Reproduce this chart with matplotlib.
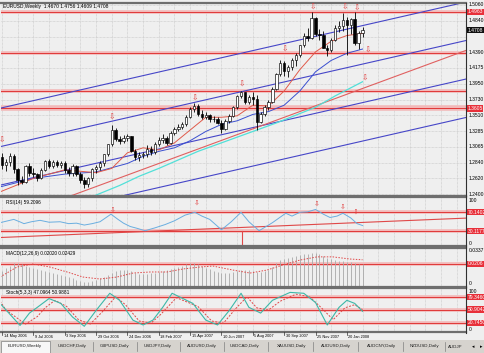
import numpy as np
import matplotlib
matplotlib.use('Agg')
import matplotlib.pyplot as plt
from matplotlib.patches import Rectangle
from matplotlib.transforms import blended_transform_factory as btf

# ---------------- data ----------------
title = 'EURUSD,Weekly  1.4670 1.4756 1.4609 1.4708'
dates = ['14 May 2006', '9 Jul 2006', '3 Sep 2006', '29 Oct 2006', '24 Dec 2006', '18 Feb 2007',
         '15 Apr 2007', '10 Jun 2007', '5 Aug 2007', '30 Sep 2007', '25 Nov 2007', '20 Jan 2008']
date_pos = [0, 8, 16, 24, 32, 40, 48, 56, 64, 72, 80, 88]

opens = [1.2920, 1.2810, 1.2850, 1.2940, 1.2750, 1.2600, 1.2570, 1.2790, 1.2700, 1.2680,
         1.2620, 1.2740, 1.2860, 1.2790, 1.2850, 1.2810, 1.2830, 1.2740, 1.2690, 1.2790,
         1.2680, 1.2600, 1.2540, 1.2620, 1.2750, 1.2780, 1.2830, 1.2960, 1.3100, 1.3300,
         1.3170, 1.3150, 1.3190, 1.3210, 1.3000, 1.2920, 1.2950, 1.2960, 1.3040, 1.2990,
         1.3100, 1.3160, 1.3190, 1.3120, 1.3260, 1.3320, 1.3350, 1.3390, 1.3490, 1.3590,
         1.3640, 1.3520, 1.3480, 1.3510, 1.3460, 1.3450, 1.3400, 1.3310, 1.3430, 1.3500,
         1.3620, 1.3780, 1.3830, 1.3700, 1.3770, 1.3740, 1.3420, 1.3530, 1.3620, 1.3700,
         1.3880, 1.4090, 1.4250, 1.4130, 1.4190, 1.4290, 1.4360, 1.4490, 1.4620, 1.4600,
         1.4870, 1.4650, 1.4640, 1.4460, 1.4420, 1.4570, 1.4740, 1.4770, 1.4850, 1.4780,
         1.4860, 1.4520, 1.4670]
highs = [1.2975, 1.2890, 1.2980, 1.2960, 1.2770, 1.2660, 1.2810, 1.2830, 1.2770, 1.2700,
         1.2760, 1.2880, 1.2890, 1.2880, 1.2880, 1.2860, 1.2860, 1.2780, 1.2820, 1.2810,
         1.2710, 1.2640, 1.2640, 1.2770, 1.2810, 1.2870, 1.2970, 1.3110, 1.3367, 1.3330,
         1.3220, 1.3230, 1.3240, 1.3220, 1.3030, 1.2990, 1.2990, 1.3090, 1.3070, 1.3130,
         1.3200, 1.3250, 1.3220, 1.3280, 1.3340, 1.3380, 1.3420, 1.3510, 1.3620, 1.3682,
         1.3660, 1.3580, 1.3560, 1.3530, 1.3500, 1.3480, 1.3440, 1.3450, 1.3520, 1.3640,
         1.3790, 1.3852, 1.3840, 1.3800, 1.3830, 1.3790, 1.3560, 1.3650, 1.3720, 1.3900,
         1.4100, 1.4280, 1.4270, 1.4220, 1.4320, 1.4380, 1.4500, 1.4660, 1.4740, 1.4966,
         1.4890, 1.4720, 1.4700, 1.4500, 1.4600, 1.4780, 1.4830, 1.4950, 1.4890, 1.4880,
         1.4960, 1.4700, 1.4756]
lows = [1.2750, 1.2720, 1.2800, 1.2700, 1.2530, 1.2540, 1.2550, 1.2660, 1.2640, 1.2580,
        1.2610, 1.2720, 1.2760, 1.2770, 1.2780, 1.2760, 1.2700, 1.2650, 1.2650, 1.2660,
        1.2560, 1.2484, 1.2500, 1.2590, 1.2700, 1.2740, 1.2800, 1.2940, 1.3080, 1.3140,
        1.3100, 1.3120, 1.3140, 1.2990, 1.2880, 1.2870, 1.2900, 1.2920, 1.2950, 1.2960,
        1.3080, 1.3120, 1.3090, 1.3110, 1.3230, 1.3290, 1.3320, 1.3360, 1.3470, 1.3560,
        1.3500, 1.3450, 1.3450, 1.3420, 1.3410, 1.3380, 1.3264, 1.3300, 1.3400, 1.3480,
        1.3600, 1.3750, 1.3660, 1.3660, 1.3650, 1.3300, 1.3400, 1.3500, 1.3580, 1.3680,
        1.3860, 1.4060, 1.4060, 1.4040, 1.4150, 1.4200, 1.4330, 1.4470, 1.4560, 1.4580,
        1.4620, 1.4570, 1.4450, 1.4340, 1.4400, 1.4550, 1.4680, 1.4700, 1.4360, 1.4650,
        1.4500, 1.4440, 1.4609]
closes = [1.2810, 1.2850, 1.2940, 1.2750, 1.2600, 1.2570, 1.2790, 1.2700, 1.2680, 1.2620,
          1.2740, 1.2860, 1.2790, 1.2850, 1.2810, 1.2830, 1.2740, 1.2690, 1.2790, 1.2680,
          1.2600, 1.2540, 1.2620, 1.2750, 1.2780, 1.2830, 1.2960, 1.3100, 1.3300, 1.3170,
          1.3150, 1.3190, 1.3210, 1.3000, 1.2920, 1.2950, 1.2960, 1.3040, 1.2990, 1.3100,
          1.3160, 1.3190, 1.3120, 1.3260, 1.3320, 1.3350, 1.3390, 1.3490, 1.3590, 1.3640,
          1.3520, 1.3480, 1.3510, 1.3460, 1.3450, 1.3400, 1.3310, 1.3430, 1.3500, 1.3620,
          1.3780, 1.3830, 1.3700, 1.3770, 1.3740, 1.3420, 1.3530, 1.3620, 1.3700, 1.3880,
          1.4090, 1.4250, 1.4130, 1.4190, 1.4290, 1.4360, 1.4490, 1.4620, 1.4600, 1.4870,
          1.4650, 1.4640, 1.4460, 1.4420, 1.4570, 1.4740, 1.4770, 1.4850, 1.4780, 1.4860,
          1.4520, 1.4670, 1.4708]

# moving averages (read at sparse bars)
ma_red_x = [-0.5, 8, 16, 24, 28, 32, 36, 40, 44, 48, 52, 56, 60, 64, 68, 72, 76, 80, 84, 88, 92]
ma_red_y = [1.243, 1.262, 1.274, 1.270, 1.276, 1.298, 1.305, 1.302, 1.312, 1.330, 1.348, 1.348,
            1.350, 1.365, 1.364, 1.385, 1.415, 1.440, 1.455, 1.463, 1.466]
ma_blue_x = [-0.5, 8, 16, 24, 32, 36, 40, 44, 48, 52, 56, 60, 64, 68, 72, 76, 80, 84, 88, 92]
ma_blue_y = [1.250, 1.262, 1.268, 1.271, 1.283, 1.293, 1.300, 1.305, 1.315, 1.328, 1.338, 1.343,
             1.352, 1.356, 1.365, 1.385, 1.412, 1.428, 1.438, 1.444]
ma_cyan_x = [22, 30, 35, 40, 45, 50, 60, 70, 80, 85, 92]
ma_cyan_y = [1.234, 1.252, 1.265, 1.276, 1.288, 1.300, 1.320, 1.340, 1.362, 1.378, 1.398]

# channel / trend lines (value at left edge, value at right edge)
chan_left = [1.3607, 1.3066, 1.2524, 1.1982]
chan_right = [1.5102, 1.4560, 1.4018, 1.3477]
red_trend = [1.2007, 1.4421]
levels_main = [1.4963, 1.4380, 1.3852, 1.3605]

# fractal arrows (bar, price)
arrows_x = [0, 28, 49.2, 61.2, 72.2, 79.3, 87.5, 90.6, 93.4, 92.6]
arrows_y = [1.316, 1.3484, 1.3751, 1.3948, 1.4441, 1.5032, 1.5032, 1.5018, 1.4427, 1.4033]

price_ticks = [1.5060, 1.4840, 1.4615, 1.4390, 1.4175, 1.3950, 1.3730, 1.3510, 1.3285, 1.3065,
               1.2840, 1.2620, 1.2400]

# RSI
rsi_x = [-0.5, 1.5, 3, 4.5, 5.6, 7.5, 9.7, 12, 14.8, 17, 19, 21, 23, 25, 27.8, 29.6, 31, 32.7,
         34.5, 36.5, 39, 41.6, 44, 46.7, 49.2, 51, 53, 56, 58.5, 61, 63, 65.6, 67, 69, 72.4,
         74, 76, 78, 80, 82, 83.7, 85.5, 87, 89, 90.6, 92]
rsi_y = [48, 52, 55, 50, 46, 50, 53, 49, 50, 46, 47, 43, 46, 50, 66, 55, 47, 40,
         36, 31, 37, 44, 52, 64, 70, 62, 55, 33, 50, 70, 50, 31, 38, 48, 68,
         62, 70, 71, 76, 66, 59, 62, 68, 58, 46, 42]
rsi_trend = [16.6, 57.7]
rsi_levels = [70.1402, 30.1177]
rsi_arrows_x = [28.3, 49.7, 80.4, 87, 90.3]
rsi_arrows_y = [76.5, 89.5, 87.4, 81, 72]

# MACD
macd_hist = [0.014, 0.017, 0.019, 0.021, 0.021, 0.020, 0.019, 0.018,
             0.017, 0.016, 0.015, 0.014, 0.013, 0.012, 0.011, 0.010,
             0.009, 0.008, 0.007, 0.006, 0.005, 0.004, 0.004, 0.005,
             0.006, 0.007, 0.008, 0.010, 0.012, 0.014, 0.015, 0.015,
             0.015, 0.014, 0.012, 0.011, 0.011, 0.011, 0.012, 0.012,
             0.013, 0.014, 0.015, 0.016, 0.017, 0.018, 0.019, 0.020,
             0.021, 0.021, 0.020, 0.019, 0.017, 0.016, 0.014, 0.013,
             0.012, 0.012, 0.012, 0.013, 0.014, 0.015, 0.015, 0.015,
             0.014, 0.013, 0.013, 0.014, 0.015, 0.018, 0.021, 0.024,
             0.025, 0.026, 0.027, 0.028, 0.029, 0.030, 0.030, 0.031,
             0.031, 0.030, 0.028, 0.026, 0.025, 0.024, 0.023, 0.023,
             0.022, 0.022, 0.021, 0.020, 0.0202]
macd_sig_x = [-0.5, 3.8, 7.9, 12.2, 16.6, 20.7, 25, 29.3, 33.4, 37.8, 42.1, 46.2, 50.5, 53.8,
              58.9, 63.3, 67.6, 71.7, 76, 80.4, 84.4, 88.8, 92]
macd_sig_y = [0.0083, 0.0176, 0.0204, 0.0176, 0.0130, 0.0083, 0.0065, 0.0083, 0.0120, 0.0130,
              0.0130, 0.0158, 0.0176, 0.0185, 0.0148, 0.0120, 0.0148, 0.0195, 0.0240, 0.0270,
              0.0270, 0.0250, 0.0243]
macd_level = 0.0206

# Stochastic
st_main_x = [-0.5, 4.6, 7, 9, 12, 15, 18, 21, 24, 27.5, 30, 33.4, 36, 38.5, 41, 43.4, 48.7, 52,
             55, 58, 61, 63, 66, 69, 73.5, 77, 80, 83, 86, 88, 90, 92]
st_main_y = [65, 15, 43, 56, 76, 65, 34, 13, 49, 88, 72, 27, 16, 27, 56, 88, 65, 27,
             16, 49, 88, 56, 43, 72, 90, 88, 67, 16, 56, 72, 65, 47]
st_sig_x = [-0.5, 1, 6, 9, 11, 13.5, 16.5, 19.5, 22.5, 25.5, 29, 31.5, 35, 38, 40.5, 44.5, 50,
            53.5, 56.5, 59.5, 62.5, 65, 68, 71, 75, 78.5, 81.5, 84.5, 87.5, 90, 92]
st_sig_y = [70, 50, 18, 35, 55, 72, 58, 28, 18, 45, 80, 62, 25, 20, 40, 78, 58,
            25, 20, 52, 80, 55, 50, 70, 86, 80, 55, 28, 55, 62, 51]
st_levels = [79.3460, 50.9042, 20.7450]

tabs = ['EURUSD,Weekly', 'USDCHF,Daily', 'GBPUSD,Daily', 'USDJPY,Daily', 'AUDUSD,Daily',
        'USDCAD,Daily', 'XAUUSD,Daily', 'AUDUSD,Daily', 'AUDCNY,Daily', 'NZDUSD,Daily', 'AUDJP']
tab_centers = [25, 72, 115, 158, 202, 245, 292, 336, 382, 424, 455]

# ---------------- drawing ----------------
W, H = 485, 353
BG = '#efefef'
GRID = '#c4c4c4'
FONT = 'Liberation Sans'
plt.rcParams['font.family'] = [FONT, 'DejaVu Sans']

fig = plt.figure(figsize=(W / 100, H / 100), dpi=100)
fig.patch.set_facecolor(BG)

XL = (-0.26, 118.4)


def pane(top, bottom):
    ax = fig.add_axes([1 / W, 1 - bottom / H, 465 / W, (bottom - top) / H])
    ax.set_facecolor(BG)
    ax.set_xlim(*XL)
    ax.set_xticks([])
    ax.set_yticks([])
    for s in ['left', 'right']:
        ax.spines[s].set_visible(False)
    for s in ['top', 'bottom']:
        ax.spines[s].set_color('#6e6e6e')
        ax.spines[s].set_linewidth(1.6)
    for g in range(0, 118, 4):
        ax.axvline(g, color=GRID, lw=0.5, ls=(0, (1, 1)), zorder=0)
    return ax


def level(ax, v, halo=2.6):
    ax.axhline(v, color='#f2b9b9', lw=halo, zorder=1)
    ax.axhline(v, color='#e03838', lw=0.7, zorder=1)


def rlabel(ax, v, s, box=None, fs=3.6):
    tr = btf(fig.transFigure, ax.transData)
    if box:
        ax.text(467.5 / W, v, s, transform=tr, fontsize=fs, color='white', va='center', ha='left',
                clip_on=False, bbox=dict(boxstyle='square,pad=0.15', fc=box, ec='none'))
    else:
        ax.text(468.5 / W, v, s, transform=tr, fontsize=fs, color='black', va='center', ha='left',
                clip_on=False)


# main pane
ax = pane(3, 196)
ax.set_ylim(1.2372, 1.5088)
for t in price_ticks:
    ax.axhline(t, color=GRID, lw=0.5, ls=(0, (1, 1)), zorder=0)
for v in levels_main:
    level(ax, v, 4 if v == 1.3605 else 2.6)
for a, b in zip(chan_left, chan_right):
    ax.plot([-0.51, 118.4], [a, b], color='#4646c8', lw=0.8, zorder=2)
ax.plot([-0.51, 118.4], red_trend, color='#e06060', lw=0.8, zorder=2)
ax.plot(ma_cyan_x, ma_cyan_y, color='#52e0d8', lw=0.9, zorder=2)
ax.plot(ma_blue_x, ma_blue_y, color='#3a4fd0', lw=0.7, zorder=2)
ax.plot(ma_red_x, ma_red_y, color='#e05a4a', lw=0.7, zorder=2)

idx = np.arange(len(closes))
o = np.array(opens); c = np.array(closes)
ax.vlines(idx, lows, highs, color='black', lw=0.6, zorder=3)
bot = np.minimum(o, c)
hgt = np.maximum(np.abs(c - o), 0.0004)
cols = ['white' if cc >= oo else 'black' for oo, cc in zip(o, c)]
ax.bar(idx, hgt, bottom=bot, width=0.62, color=cols, edgecolor='black', lw=0.45, zorder=4)
for xa, ya in zip(arrows_x, arrows_y):
    ax.text(xa, ya, '\u21e9', fontsize=5.5, color='#e03c3c', ha='center', va='center',
            family='DejaVu Sans', zorder=5)
fig.text(3 / W, 1 - 6.5 / H, title, fontsize=3.5, va='center', ha='left')
for t in price_ticks:
    if abs(t - 1.4615) < 1e-6:
        continue
    rlabel(ax, t, '%.4f' % t)
rlabel(ax, 1.4963, '1.4963', '#e8303a')
rlabel(ax, 1.3605, '1.3605', '#e8303a')
rlabel(ax, 1.4708, '1.4708', '#101010')

# RSI pane
ar = pane(197, 246)
ar.set_ylim(-1.35, 102.4)
for v in rsi_levels:
    level(ar, v)
ar.plot([-0.51, 118.4], rsi_trend, color='#e04848', lw=0.8, zorder=2)
ar.plot([61.2, 61.2], [30, -2], color='#e04848', lw=0.8, zorder=2)
ar.plot(rsi_x, rsi_y, color='#6aaee0', lw=0.7, zorder=3)
for xa, ya in zip(rsi_arrows_x, rsi_arrows_y):
    ar.text(xa, ya, '\u21e9', fontsize=5, color='#e03c3c', ha='center', va='center',
            family='DejaVu Sans', zorder=5)
ar.text(1, 91, 'RSI(14) 59.2096', fontsize=3.4, va='center', ha='left')
rlabel(ar, 96, '100')
rlabel(ar, 70.1402, '70.1402', '#e8303a')
rlabel(ar, 30.1177, '30.1177', '#e8303a')
rlabel(ar, 4, '0')

# MACD pane
am = pane(248, 287)
am.set_ylim(-0.0009, 0.0352)
level(am, macd_level)
am.vlines(idx, 0, macd_hist, color='#a8a8a8', lw=0.6, zorder=2)
am.plot(macd_sig_x, macd_sig_y, color='#e04848', lw=0.7, ls=(0, (1.5, 1.5)), zorder=3)
am.text(1, 0.0305, 'MACD(12,26,9) 0.02020 0.02429', fontsize=3.4, va='center', ha='left')
rlabel(am, 0.0330, '0.0337')
rlabel(am, macd_level, '0.0206', '#e8303a')
rlabel(am, 0.0020, '0')

# Stochastic pane
ast = pane(288, 332)
ast.set_ylim(0, 100)
for v in st_levels:
    level(ast, v)
ast.plot(st_sig_x, st_sig_y, color='#e04848', lw=0.7, ls=(0, (2, 1.5)), zorder=3)
ast.plot(st_main_x, st_main_y, color='#3cb8a8', lw=0.8, zorder=3)
ast.text(1, 90, 'Stoch(5,3,3) 47.0964 50.9881', fontsize=3.4, va='center', ha='left')
rlabel(ast, 93, '100')
rlabel(ast, 79.3460, '79.3460', '#e8303a')
rlabel(ast, 50.9042, '50.9042', '#e8303a')
rlabel(ast, 20.7450, '20.7450', '#e8303a')
rlabel(ast, 6, '0')

# right axis line
fig.add_artist(plt.Line2D([466 / W, 466 / W], [1 - 333 / H, 1 - 3 / H], color='#303030', lw=0.8))

# dates
trx = btf(ast.transData, fig.transFigure)
for p, s in zip(date_pos, dates):
    fig.add_artist(plt.Line2D([p, p], [1 - 332 / H, 1 - 334.5 / H], transform=trx, color='#303030', lw=0.5))
    fig.text(0, 1 - 336.5 / H, s, transform=btf(ast.transData, fig.transFigure), fontsize=2.8,
             va='center', ha='left')
for t in fig.texts[-len(dates):]:
    pass
# shift date text slightly right of tick
for p, t in zip(date_pos, fig.texts[-len(dates):]):
    t.set_x(p + 0.4)

# tab bar
fig.add_artist(Rectangle((0, 0), 1, 13 / H, transform=fig.transFigure, fc='#d6d3ce', ec='none'))
fig.add_artist(Rectangle((1 / W, 0.5 / H), 49 / W, 12 / H, transform=fig.transFigure,
                         fc='#f7f7f7', ec='#808080', lw=0.5))
for cx, s in zip(tab_centers, tabs):
    fig.text(cx / W, 6.5 / H, s, fontsize=3.2, va='center', ha='center', color='#202020')
for sx in [93, 137, 180, 224, 268, 313, 358, 403, 445]:
    fig.add_artist(plt.Line2D([sx / W, sx / W], [2 / H, 11 / H], color='#808080', lw=0.5))
fig.text(473 / W, 6.5 / H, '\u25c2', fontsize=3.5, va='center', ha='center', family='DejaVu Sans')
fig.text(481 / W, 6.5 / H, '\u25b8', fontsize=3.5, va='center', ha='center', family='DejaVu Sans')

fig.savefig('out.png', dpi=100, facecolor=BG)
